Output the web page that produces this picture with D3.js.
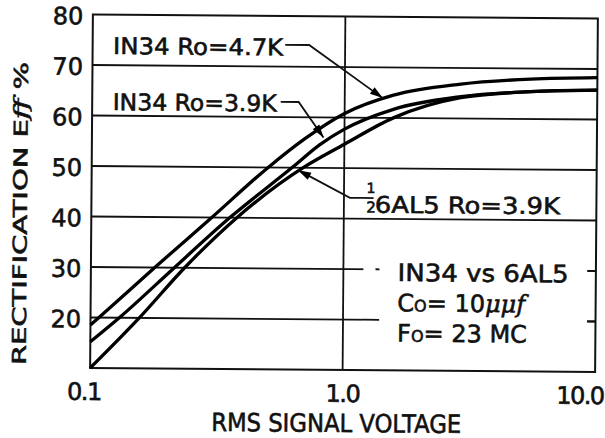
<!DOCTYPE html>
<html>
<head>
<meta charset="utf-8">
<script src="https://cdn.jsdelivr.net/npm/d3@7"></script>
<style>
  body { margin: 0; background: #fff; }
  svg { display: block; }
  text { font-family: "DejaVu Sans", sans-serif; fill: #111; stroke: #111; stroke-width: 0.6px; }
</style>
</head>
<body>
<div id="chart"></div>
<script>
// ---- data ----
var xTicks = [0.1, 1.0, 10.0];
var xTickLabels = ["0.1", "1.0", "10.0"];
var yTicks = [20, 30, 40, 50, 60, 70, 80];
var yGrid = [20, 30, 40, 50, 60, 70];
var xGrid = [1.0];

// IN34 Ro=4.7K
var in34HiVolts = [0.1, 0.108, 0.179, 0.30, 0.50, 0.70, 1.0, 1.56, 2.88, 5.45, 10];
var in34HiEff   = [18.5, 20, 30, 40, 50, 55.8, 60.8, 64.5, 66.8, 67.9, 68.3];
// IN34 Ro=3.9K
var in34LoVolts = [0.1, 0.13, 0.214, 0.354, 0.622, 0.80, 1.0, 1.56, 2.88, 5.45, 10];
var in34LoEff   = [15.2, 20, 30, 40, 50, 54.6, 57.7, 61.7, 64.3, 65.4, 65.8];
// 1/2 6AL5 Ro=3.9K
var al5Volts = [0.1, 0.156, 0.235, 0.377, 0.688, 1.0, 1.56, 2.88, 5.45, 10];
var al5Eff   = [10, 20, 30, 40, 50, 54.7, 60.0, 64.1, 65.4, 65.8];

// label anchors and leader paths, in data units (volts, eff)
var labels = [
  { text: "IN34 Ro=4.7K", at: [0.1206, 72.2], len: 170,
    leader: [[0.579, 74.3], [0.72, 74.3], [1.415, 63.9]] },
  { text: "IN34 Ro=3.9K", at: [0.1206, 61.1], len: 164,
    leader: [[0.558, 63.0], [0.657, 63.0], [0.826, 56.0]] },
  { text: "6AL5 Ro=3.9K", at: [1.327, 41.2], len: 185,
    leader: [[1.31, 44.1], [1.189, 44.1], [1.056, 44.1], [0.657, 49.5]] }
];
var noteLines = ["IN34 vs 6AL5", "Co= 10\u03bc\u03bcf", "Fo= 23 MC"];
var noteEff = [27.7, 21.7, 15.7];

var width = 605, height = 438;

var x = d3.scaleLog().domain([0.1, 10]).range([91.5, 596.5]);
var y = d3.scaleLinear().domain([10, 80]).range([370, 16.5]);

var svg = d3.select("#chart").append("svg")
  .attr("width", width)
  .attr("height", height);

// the scan is tilted a hair clockwise
var g = svg.append("g")
  .attr("transform", "rotate(0.45, 344, 193)");

// horizontal grid
g.selectAll(".hgrid").data(yGrid).enter().append("line")
  .attr("class", "hgrid")
  .attr("x1", x(0.1)).attr("x2", x(10))
  .attr("y1", function(d) { return y(d); })
  .attr("y2", function(d) { return y(d); })
  .style("stroke", "#111").style("stroke-width", 1.8);

g.selectAll(".vgrid").data(xGrid).enter().append("line")
  .attr("class", "vgrid")
  .attr("x1", function(d) { return x(d); })
  .attr("x2", function(d) { return x(d); })
  .attr("y1", y(80)).attr("y2", y(10))
  .style("stroke", "#111").style("stroke-width", 1.8);

// blank out the grid behind the note
g.append("rect")
  .attr("x", x(1.2)).attr("y", y(33))
  .attr("width", x(9.26) - x(1.2))
  .attr("height", y(13) - y(33))
  .style("fill", "#fff");

// leftover bits of the 20 and 30 lines
g.append("line")
  .attr("x1", x(1.2)).attr("x2", x(1.39))
  .attr("y1", y(20)).attr("y2", y(20))
  .style("stroke", "#111").style("stroke-width", 1.8);
g.append("line")
  .attr("x1", x(1.34)).attr("x2", x(1.39))
  .attr("y1", y(30)).attr("y2", y(30))
  .style("stroke", "#111").style("stroke-width", 1.8);

// frame
g.append("rect")
  .attr("x", x(0.1)).attr("y", y(80))
  .attr("width", x(10) - x(0.1))
  .attr("height", y(10) - y(80))
  .style("fill", "none")
  .style("stroke", "#111")
  .style("stroke-width", 2);

// curves
var line = d3.line()
  .x(function(d) { return x(d[0]); })
  .y(function(d) { return y(d[1]); })
  .curve(d3.curveMonotoneX);

var series = [
  d3.zip(in34HiVolts, in34HiEff),
  d3.zip(in34LoVolts, in34LoEff),
  d3.zip(al5Volts, al5Eff)
];

g.selectAll(".curve").data(series).enter().append("path")
  .attr("class", "curve")
  .attr("d", line)
  .style("fill", "none")
  .style("stroke", "#000")
  .style("stroke-width", 3.3)
  .style("stroke-linejoin", "round");

// labels with leaders and arrowheads
function arrowHead(tip, from, len, half) {
  var dx = tip[0] - from[0], dy = tip[1] - from[1];
  var n = Math.sqrt(dx * dx + dy * dy);
  var ux = dx / n, uy = dy / n;
  var bx = tip[0] - ux * len, by = tip[1] - uy * len;
  return [[tip[0], tip[1]], [bx - uy * half, by + ux * half], [bx + uy * half, by - ux * half]];
}

labels.forEach(function(lb) {
  g.append("text")
    .attr("x", x(lb.at[0])).attr("y", y(lb.at[1]))
    .attr("textLength", lb.len)
    .attr("lengthAdjust", "spacingAndGlyphs")
    .style("font-size", "23px")
    .text(lb.text);

  var pts = lb.leader.map(function(p) { return [x(p[0]), y(p[1])]; });
  g.append("path")
    .attr("d", d3.line()(pts))
    .style("fill", "none")
    .style("stroke", "#111")
    .style("stroke-width", 1.8);

  var tip = pts[pts.length - 1], from = pts[pts.length - 2];
  g.append("polygon")
    .attr("points", arrowHead(tip, from, 13, 4).map(function(p) { return p.join(","); }).join(" "))
    .style("fill", "#000");
});

// the 1/2 in front of 6AL5, bar shared with the leader
g.append("text")
  .attr("x", x(1.28)).attr("y", y(45.1))
  .attr("text-anchor", "middle")
  .style("font-size", "14px")
  .text("1");
g.append("text")
  .attr("x", x(1.28)).attr("y", y(41.2))
  .attr("text-anchor", "middle")
  .style("font-size", "15px")
  .text("2");

// note block
noteLines.forEach(function(t, i) {
  var txt = g.append("text")
    .attr("x", x(1.64)).attr("y", y(noteEff[i]))
    .style("font-size", "24px");
  if (i == 0) {
    txt.attr("textLength", 171).attr("lengthAdjust", "spacingAndGlyphs").text(t);
  } else if (i == 1) {
    txt.append("tspan").text("C");
    txt.append("tspan").style("font-size", "16px").text("O");
    txt.append("tspan").text("= 10");
    txt.append("tspan").style("font-family", "DejaVu Serif").style("font-style", "italic").text("\u03bc\u03bcf");
  } else {
    txt.append("tspan").text("F");
    txt.append("tspan").style("font-size", "16px").text("O");
    txt.append("tspan").text("= 23 MC");
  }
});

// right-edge stubs of the 20 / 30 lines
[20, 30].forEach(function(v) {
  g.append("line")
    .attr("x1", x(9.26)).attr("x2", x(10))
    .attr("y1", y(v)).attr("y2", y(v))
    .style("stroke", "#111").style("stroke-width", 1.8);
});

// y tick labels
g.selectAll(".ytick").data(yTicks).enter().append("text")
  .attr("class", "ytick")
  .attr("x", 82)
  .attr("y", function(d) { return y(d) + 2; })
  .attr("text-anchor", "end")
  .attr("dominant-baseline", "central")
  .style("font-size", "24px")
  .text(function(d) { return d; });

// x tick labels
g.selectAll(".xtick").data(xTicks).enter().append("text")
  .attr("class", "xtick")
  .attr("x", function(d, i) { return i == 0 ? x(d) - 6 : (i == 2 ? x(d) - 15 : x(d)); })
  .attr("y", 402)
  .attr("text-anchor", "middle")
  .style("font-size", "24px")
  .style("letter-spacing", "-1.5px")
  .text(function(d, i) { return xTickLabels[i]; });

// axis titles
g.append("text")
  .attr("x", 338).attr("y", 432)
  .attr("text-anchor", "middle")
  .attr("textLength", 250)
  .attr("lengthAdjust", "spacingAndGlyphs")
  .style("font-size", "25px")
  .text("RMS  SIGNAL VOLTAGE");

var yTitle = g.append("text")
  .attr("transform", "translate(27, 216) rotate(-90)")
  .attr("text-anchor", "middle")
  .attr("textLength", 303)
  .attr("lengthAdjust", "spacingAndGlyphs")
  .style("font-size", "19px");
yTitle.append("tspan").text("RECTIFICATION  E");
yTitle.append("tspan").style("font-family", "DejaVu Serif").style("font-style", "italic").text("ff");
yTitle.append("tspan").text(" %");
</script>
</body>
</html>
